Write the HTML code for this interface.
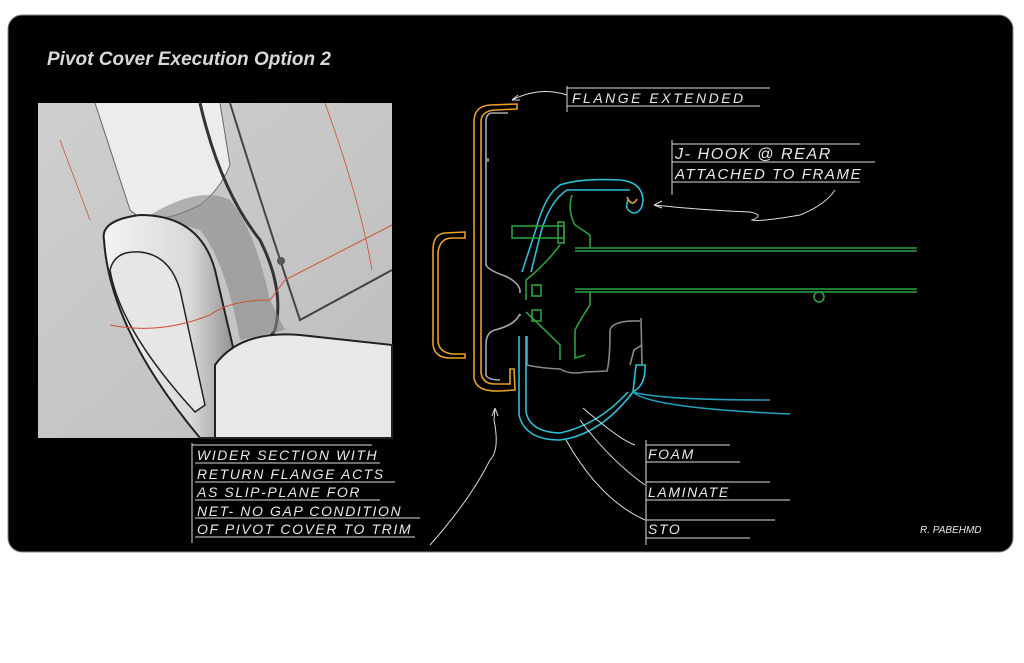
<!DOCTYPE html>
<html><head><meta charset="utf-8"><style>
html,body{margin:0;padding:0;background:#fff;width:1024px;height:663px;overflow:hidden}
svg{display:block}
.h{font-family:"Liberation Sans",sans-serif;font-style:italic;fill:#e8e8e8;letter-spacing:1.6px}
</style></head><body>
<svg width="1024" height="663" viewBox="0 0 1024 663" xmlns="http://www.w3.org/2000/svg">
<defs>
<linearGradient id="g1" x1="0" y1="0" x2="1" y2="1">
<stop offset="0" stop-color="#cfcfcf"/><stop offset="1" stop-color="#bdbdbd"/></linearGradient>
<linearGradient id="g3" x1="0" y1="0" x2="1" y2="0">
<stop offset="0" stop-color="#f4f4f4"/><stop offset="0.6" stop-color="#d8d8d8"/><stop offset="1" stop-color="#777"/></linearGradient>
</defs>
<rect x="8" y="15" width="1005" height="537" rx="14" fill="#000" stroke="#888" stroke-width="1"/>
<text x="47" y="65" font-family="Liberation Sans,sans-serif" font-weight="bold" font-style="italic" font-size="19" fill="#d8d8d8">Pivot Cover Execution Option 2</text>

<!-- render image -->
<rect x="38" y="103" width="354" height="335" fill="url(#g1)"/>
<g fill="none">
<path d="M95,103 L130,210 Q150,230 200,205 Q220,190 230,165 L220,103" fill="#ececec" stroke="#666"/>
<path d="M200,103 Q220,190 260,240 Q285,290 275,330 L240,380 L240,438" stroke="#333" stroke-width="3"/>
<path d="M230,103 Q260,200 300,320 L392,270" stroke="#444" stroke-width="2"/>
<path d="M150,215 Q200,185 230,200 Q255,230 270,300 L285,330 L240,340 Q225,260 200,230 Z" fill="#888" opacity="0.6"/>
<path d="M104,240 Q100,220 140,215 Q200,215 215,270 L250,420 L230,438 L200,438 Q110,330 104,240Z" fill="url(#g3)" stroke="#222" stroke-width="2"/>
<path d="M110,270 Q115,250 140,252 Q170,255 180,290 L205,405 L195,412 Q120,330 110,270Z" fill="#e6e6e6" stroke="#222" stroke-width="1.5"/>
<path d="M215,365 Q240,330 300,335 L392,345 L392,438 L215,438Z" fill="#e8e8e8" stroke="#222" stroke-width="2"/>
<path d="M110,325 Q160,335 210,315 Q230,300 270,300 L285,280 L392,225" stroke="#d05030" stroke-width="1"/>
<path d="M60,140 L90,220" stroke="#d05030" stroke-width="0.8"/>
<path d="M325,103 Q360,200 372,270" stroke="#d05030" stroke-width="0.8"/>
</g>
<circle cx="281" cy="261" r="4" fill="#555"/>

<!-- diagram -->
<g fill="none" stroke-width="1.6">
<path d="M517,104 L490,105 Q475,106 474,120 L474,378 Q476,392 500,391 L515,390 L514,369 L510,369 L510,384 L495,384 Q482,384 481,372 L481,122 Q481,111 495,110 L517,109Z" stroke="#e8a020"/>
<path d="M465,232 L445,233 Q433,234 433,250 L433,345 Q435,358 450,358 L465,358 L465,354 L452,354 Q438,352 438,340 L438,252 Q440,238 452,238 L465,238Z" stroke="#e8a020"/>
<path d="M508,113 L492,113 Q487,113 486,120 L486,265 Q488,270 505,276 Q518,282 520,290 L520,293 M520,316 L520,314 Q515,325 495,330 Q486,332 486,345 L486,375 Q488,380 500,380 M488,162 L488,158" stroke="#aaa"/>
<path d="M522,272 L536,229 Q545,195 560,185 Q580,178 620,180 Q642,182 643,200 Q642,213 633,213 Q624,210 628,200 M531,272 L541,232 Q550,201 567,190 L630,190" stroke="#29c0d8"/>
<path d="M627,197 Q632,208 637,199" stroke="#e8a020"/>
<g stroke="#2aa03a">
<path d="M575,248 L917,248 M575,251 L917,251 M575,289 L917,289 M575,292 L917,292"/>
<rect x="512" y="226" width="52" height="12"/>
<rect x="558" y="222" width="6" height="21"/>
<rect x="532" y="285" width="9" height="11"/><rect x="532" y="310" width="9" height="11"/>
<path d="M572,195 Q567,210 575,225 L590,235 L590,248 M590,292 L590,305 Q580,320 575,330 L575,358 L585,355 M526,300 L526,280 Q545,265 560,245 M526,312 Q545,330 560,345 L560,360"/>
</g>
<circle cx="819" cy="297" r="5" stroke="#2aa03a"/>
<path d="M527,336 L527,365 Q540,368 560,369 Q570,375 585,372 L607,371 Q610,360 610,330 Q613,320 640,321 M641,318 L642,365 M630,365 L634,350 L642,345" stroke="#888"/>
<path d="M519,336 L519,415 Q525,440 560,440 Q600,435 633,392 L636,365 L645,365 Q646,385 633,392 M526,336 L526,412 Q530,432 560,433 Q598,425 628,392" stroke="#29c0d8"/>
<path d="M633,392 Q660,400 770,400 M633,392 Q650,408 790,414" stroke="#20a0b8"/>
</g>

<!-- leaders -->
<g fill="none" stroke="#ddd" stroke-width="1">
<path d="M567,95 Q540,86 512,100"/><path d="M512,100 l6,-5 M512,100 l8,0"/>
<path d="M654,205 Q700,210 750,212 Q765,215 752,220 Q760,222 800,215 Q825,205 835,190"/>
<path d="M654,205 l8,-4 M654,205 l8,3"/>
<path d="M430,545 Q470,500 490,460 Q500,450 494,420 L495,408"/><path d="M495,408 l-3,8 M495,408 l3,8"/>
<path d="M583,408 Q620,440 635,445"/>
<path d="M580,420 Q610,460 645,485"/>
<path d="M566,440 Q600,500 645,520"/>
<path d="M567,88 L770,88 M567,106 L760,106 M567,86 L567,112"/>
<path d="M672,144 L860,144 M672,162 L875,162 M672,182 L860,182 M672,140 L672,195"/>
<path d="M192,445 L372,445 M195,463 L380,463 M195,482 L395,482 M195,500 L380,500 M195,518 L420,518 M195,537 L415,537 M192,443 L192,543"/>
<path d="M646,445 L730,445 M646,462 L740,462 M646,482 L770,482 M646,500 L790,500 M646,520 L775,520 M646,538 L750,538 M646,440 L646,545"/>
</g>
<g class="h">
<text x="572" y="103" font-size="14" letter-spacing="2.5">FLANGE EXTENDED</text>
<text x="675" y="159" font-size="16">J- HOOK @ REAR</text>
<text x="675" y="179" font-size="15">ATTACHED TO FRAME</text>
<text x="197" y="460" font-size="14">WIDER SECTION WITH</text>
<text x="197" y="479" font-size="14">RETURN FLANGE ACTS</text>
<text x="197" y="497" font-size="14">AS SLIP-PLANE FOR</text>
<text x="197" y="516" font-size="14">NET- NO GAP CONDITION</text>
<text x="197" y="534" font-size="14">OF PIVOT COVER TO TRIM</text>
<text x="648" y="459" font-size="14">FOAM</text>
<text x="648" y="497" font-size="14">LAMINATE</text>
<text x="648" y="534" font-size="14">STO</text>
<text x="920" y="533" font-size="10" letter-spacing="0">R. PABEHMD</text>
</g>
</svg>
</body></html>
